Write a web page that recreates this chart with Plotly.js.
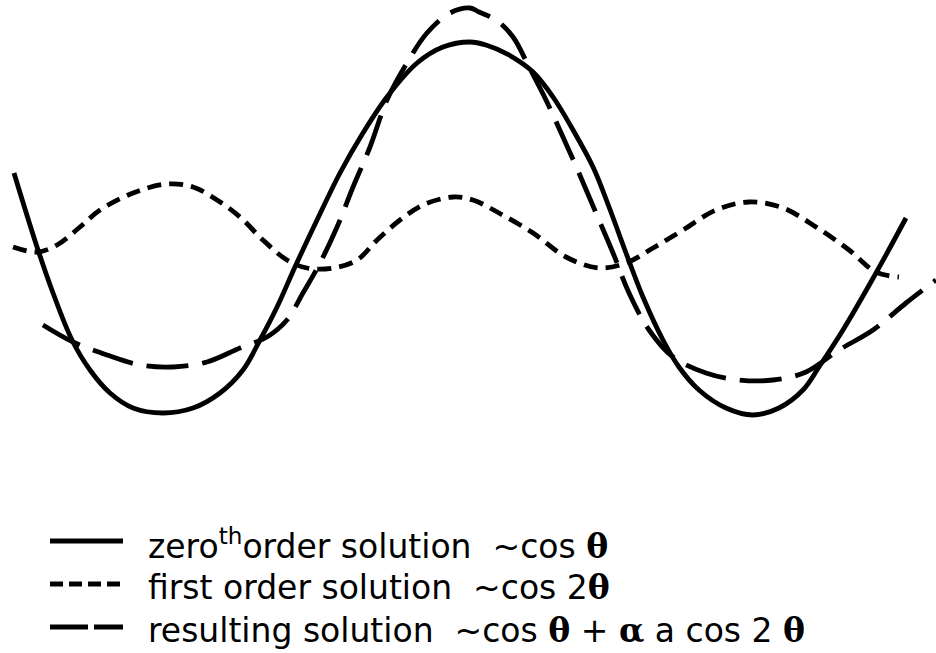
<!DOCTYPE html>
<html>
<head>
<meta charset="utf-8">
<script src="https://cdn.plot.ly/plotly-3.0.1.min.js"></script>
<style>
  html, body { margin: 0; padding: 0; background: #ffffff; }
  #chart { width: 936px; height: 653px; }
</style>
</head>
<body>
<div id="chart"></div>
<script>
// Angle theta (degrees) and amplitude (arbitrary units) for each solution curve.
const thetaZeroth = [-285, -270.6, -260.6, -248.75, -237.5, -225, -210.6, -191.9, -173.1, -156.25,
  -141.9, -131.25, -120.6, -109.4, -95.6, -81.25, -66.9, -51.9, -33.1, -16.9, 0, 10, 24.4, 39.4,
  51.9, 64.4, 76.9, 86.9, 97.5, 108.1, 120.6, 130.6, 143.1, 160, 176.9, 193.1, 208.1, 218.1,
  233.1, 253.75, 272.5];
const ampZeroth = [0.56, -0.18, -0.64, -1.11, -1.41, -1.64, -1.79, -1.84, -1.79, -1.64,
  -1.41, -1.11, -0.78, -0.38, 0.09, 0.56, 0.96, 1.32, 1.66, 1.82, 1.87, 1.84, 1.74, 1.57,
  1.32, 0.99, 0.62, 0.22, -0.24, -0.68, -1.11, -1.38, -1.61, -1.79, -1.86, -1.79, -1.61, -1.38,
  -1.01, -0.44, 0.11];

const thetaFirst = [-285.6, -270.6, -258.1, -243.75, -231.25, -210.6, -189.4, -173.1, -158.1,
  -143.75, -129.4, -114.4, -101.9, -85.6, -70.6, -58.1, -43.75, -29.4, -10.6, 1.9, 18.1, 39.4,
  60, 80.6, 97.5, 114.4, 133.1, 153.75, 174.4, 195.6, 216.25, 236.9, 253.75, 268.1];
const ampFirst = [-0.18, -0.23, -0.16, 0.02, 0.19, 0.36, 0.45, 0.42, 0.29,
  0.12, -0.11, -0.31, -0.39, -0.39, -0.31, -0.11, 0.09, 0.24, 0.32, 0.29, 0.16, -0.04,
  -0.28, -0.39, -0.34, -0.19, -0.01, 0.19, 0.27, 0.21, 0.02, -0.21, -0.43, -0.48];

const thetaResult = [-266.9, -248.1, -226.9, -206.25, -185.6, -164.4, -143.75, -126.9, -114.4,
  -104.4, -93.75, -83.1, -73.1, -62.5, -51.9, -39.4, -26.9, -12.5, 0, 5.6, 16.25, 26.9, 36.9,
  47.5, 58.1, 68.1, 78.75, 89.4, 99.4, 111.9, 126.9, 147.5, 168.1, 189.4, 210, 230.6, 251.9,
  272.5, 291.25];
const ampResult = [-0.96, -1.13, -1.26, -1.36, -1.38, -1.33, -1.19, -1.08, -0.91,
  -0.64, -0.34, 0.02, 0.42, 0.82, 1.29, 1.66, 1.96, 2.16, 2.21, 2.17, 2.09, 1.92, 1.62,
  1.29, 0.92, 0.56, 0.16, -0.24, -0.64, -1.01, -1.28, -1.44, -1.51, -1.51, -1.43, -1.21, -1.01,
  -0.74, -0.51];

// Greek symbols are set in a bold serif face
const greek = ch => '<span style="font-family:\'DejaVu Serif\'"><b>' + ch + '</b></span>';
const legendLabels = [
  'zero<sup>th</sup>order solution  ~cos ' + greek('θ'),
  'first order solution  ~cos 2' + greek('θ'),
  'resulting solution  ~cos ' + greek('θ') + ' + ' + greek('α') + ' a cos 2 ' + greek('θ')
];

const W = 936, H = 653;
const px = v => v / W;          // horizontal pixel -> paper fraction
const py = v => 1 - v / H;      // vertical pixel (from top) -> paper fraction

const ink = '#000000';
const dashes = ['solid', '14px,8px', '42px,14px'];

const traces = [
  { x: thetaZeroth, y: ampZeroth, dash: dashes[0] },
  { x: thetaFirst, y: ampFirst, dash: dashes[1] },
  { x: thetaResult, y: ampResult, dash: dashes[2] }
].map(s => ({
  type: 'scatter',
  mode: 'lines',
  x: s.x,
  y: s.y,
  line: { color: ink, width: 4.8, dash: s.dash, shape: 'spline', smoothing: 1 },
  hoverinfo: 'skip',
  showlegend: false
}));

// Legend keys and labels
const rows = [541, 584, 627];
const keyDashes = ['solid', '13px,6px', '38px,6px'];
const shapes = rows.map((r, i) => ({
  type: 'line', xref: 'paper', yref: 'paper',
  x0: px(50), x1: px(123), y0: py(r), y1: py(r),
  line: { color: ink, width: 5, dash: keyDashes[i] }
}));
const annotations = rows.map((r, i) => ({
  xref: 'paper', yref: 'paper',
  x: px(146), y: py(r + 3),
  xanchor: 'left', yanchor: 'middle',
  showarrow: false,
  text: legendLabels[i],
  font: { family: 'DejaVu Sans, sans-serif', size: 33, color: ink }
}));

const layout = {
  width: W, height: H,
  margin: { l: 0, r: 0, t: 0, b: 0 },
  paper_bgcolor: '#ffffff',
  plot_bgcolor: '#ffffff',
  xaxis: { range: [-293.75, 291.25], visible: false, fixedrange: true },
  yaxis: { range: [-4.24, 2.29], visible: false, fixedrange: true },
  shapes: shapes,
  annotations: annotations,
  showlegend: false
};

Plotly.newPlot('chart', traces, layout, { staticPlot: true, displayModeBar: false });
</script>
</body>
</html>
